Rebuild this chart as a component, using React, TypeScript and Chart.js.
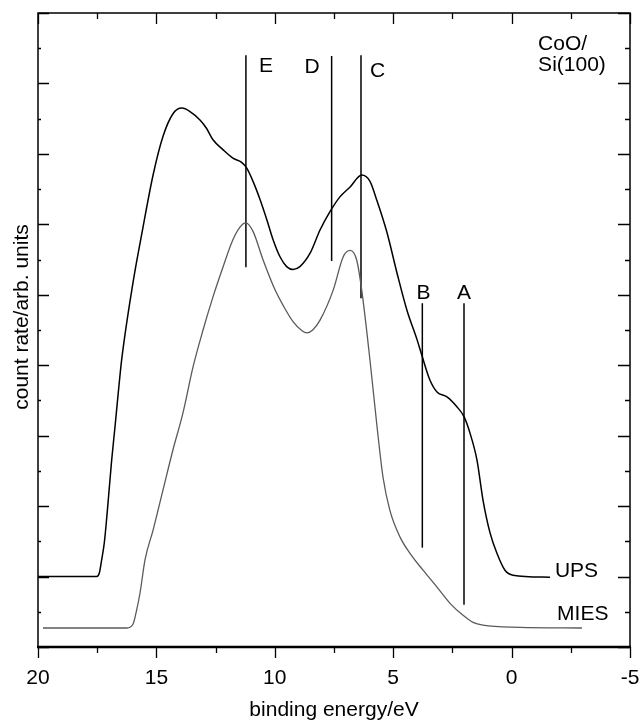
import { useEffect, useRef } from 'react';
import { Chart, registerables } from 'chart.js';

Chart.register(...registerables);

const FONT = '"Liberation Sans", Arial, Helvetica, sans-serif';

// UPS spectrum (binding energy in eV, count rate in arb. units)
const upsEnergy = [20.0, 17.52, 17.41, 17.31, 17.2, 17.07, 16.89, 16.75, 16.61, 16.47, 15.99, 15.57, 15.14, 14.72, 14.3, 13.92, 13.58, 13.16, 12.88, 12.61, 12.19, 11.77, 11.4, 11.19, 10.92, 10.62, 10.34, 10.08, 9.78, 9.5, 9.23, 8.94, 8.51, 8.09, 7.67, 7.25, 6.82, 6.33, 5.98, 5.7, 5.26, 4.84, 4.42, 3.99, 3.78, 3.45, 3.15, 2.73, 2.31, 2.01, 1.76, 1.46, 1.21, 0.91, 0.62, 0.28, -0.06, -1.62];
const upsCounts = [1.0, 1.0, 1.05, 1.24, 1.48, 1.94, 2.65, 3.12, 3.61, 4.07, 5.17, 5.95, 6.7, 7.25, 7.57, 7.65, 7.6, 7.48, 7.36, 7.2, 7.06, 6.94, 6.88, 6.8, 6.61, 6.35, 6.07, 5.79, 5.54, 5.4, 5.36, 5.4, 5.59, 5.92, 6.18, 6.39, 6.53, 6.7, 6.61, 6.35, 5.88, 5.31, 4.78, 4.36, 4.13, 3.79, 3.62, 3.55, 3.41, 3.27, 3.04, 2.65, 2.09, 1.62, 1.33, 1.09, 1.02, 0.99];

// MIES spectrum
const miesEnergy = [19.79, 16.25, 15.98, 15.85, 15.69, 15.48, 15.14, 14.72, 14.3, 13.88, 13.45, 13.03, 12.61, 12.19, 11.77, 11.47, 11.23, 10.92, 10.49, 9.99, 9.65, 9.23, 8.85, 8.64, 8.4, 8.09, 7.53, 7.11, 6.82, 6.54, 6.33, 5.98, 5.68, 5.43, 5.14, 4.71, 4.29, 3.74, 3.15, 2.6, 2.05, 1.63, 1.21, -0.35, -2.97];
const miesCounts = [0.27, 0.27, 0.33, 0.5, 0.77, 1.24, 1.66, 2.23, 2.8, 3.32, 3.98, 4.5, 4.97, 5.39, 5.78, 5.96, 6.02, 5.9, 5.49, 5.07, 4.85, 4.62, 4.49, 4.46, 4.5, 4.64, 5.07, 5.54, 5.63, 5.49, 5.07, 4.07, 3.12, 2.41, 1.94, 1.56, 1.33, 1.09, 0.85, 0.62, 0.45, 0.35, 0.31, 0.28, 0.27];

// Marker lines E..A
const markerNames = ['E', 'D', 'C', 'B', 'A'];
const markerEnergy = [11.22, 7.6, 6.36, 3.77, 2.01];
const markerBottom = [5.39, 5.48, 4.95, 1.41, 0.6];
const markerTop = [8.4, 8.39, 8.4, 4.88, 4.88];
const markerLabelEnergy = [10.37, 8.43, 5.66, 3.72, 2.01];
const markerLabelLevel = [8.27, 8.26, 8.2, 5.05, 5.05];

// Free text labels (left aligned)
const noteTexts = ['CoO/', 'Si(100)', 'UPS', 'MIES'];
const noteEnergy = [-1.12, -1.12, -1.83, -1.92];
const noteLevel = [8.58, 8.28, 1.1, 0.49];

// Axes
const xTickValues = [20, 15, 10, 5, 0, -5];
const xMin = -5;
const xMax = 20;
const xMinorStep = 2.5;
const yMin = 0;
const yMax = 9;
const yMinorStep = 0.5;
const xTitle = 'binding energy/eV';
const yTitle = 'count rate/arb. units';

const decorPlugin = {
  id: 'decor',
  afterDatasetsDraw(chart: any) {
    const { ctx, chartArea } = chart;
    const xs = chart.scales.x;
    const ys = chart.scales.y;
    const { left, right, top, bottom } = chartArea;
    ctx.save();
    ctx.strokeStyle = '#000';
    ctx.fillStyle = '#000';
    // frame
    ctx.lineWidth = 1.5;
    ctx.strokeRect(left, top, right - left, bottom - top);
    ctx.lineWidth = 2.5;
    ctx.beginPath();
    ctx.moveTo(left - 1, bottom);
    ctx.lineTo(right + 1, bottom);
    ctx.stroke();
    // x ticks: bottom outward, top inward
    ctx.lineWidth = 1.3;
    for (let v = xMin; v <= xMax + 1e-9; v += xMinorStep) {
      const px = Math.round(xs.getPixelForValue(v)) + 0.5;
      const major = Math.abs(v % 5) < 1e-9;
      const len = major ? 11 : 6;
      ctx.beginPath();
      ctx.moveTo(px, bottom);
      ctx.lineTo(px, bottom + len);
      ctx.moveTo(px, top);
      ctx.lineTo(px, top + len);
      ctx.stroke();
    }
    // y ticks: both sides inward
    for (let v = yMin; v <= yMax + 1e-9; v += yMinorStep) {
      const py = Math.round(ys.getPixelForValue(v)) + 0.5;
      const major = Math.abs(v % 1) < 1e-9;
      ctx.beginPath();
      ctx.moveTo(left, py);
      ctx.lineTo(left + (major ? 11 : 3), py);
      ctx.moveTo(right, py);
      ctx.lineTo(right - (major ? 12 : 5), py);
      ctx.stroke();
    }
    // marker labels
    const fs = 21;
    ctx.font = `${fs}px ${FONT}`;
    ctx.textBaseline = 'alphabetic';
    ctx.textAlign = 'center';
    markerNames.forEach((n, i) => {
      const px = xs.getPixelForValue(markerLabelEnergy[i]);
      const py = ys.getPixelForValue(markerLabelLevel[i]);
      ctx.fillText(n, px, py + fs * 0.358);
    });
    ctx.textAlign = 'left';
    noteTexts.forEach((t, i) => {
      const px = xs.getPixelForValue(noteEnergy[i]);
      const py = ys.getPixelForValue(noteLevel[i]);
      ctx.fillText(t, px, py + fs * 0.358);
    });
    // axis titles
    ctx.textAlign = 'center';
    ctx.fillText(xTitle, (left + right) / 2, chart.height - 6);
    ctx.translate(28, (top + bottom) / 2 - 13);
    ctx.rotate(-Math.PI / 2);
    ctx.fillText(yTitle, 0, 0);
    ctx.restore();
  },
};

export default function App() {
  const ref = useRef<HTMLCanvasElement | null>(null);
  useEffect(() => {
    if (!ref.current) return;
    const markerSets = markerNames.map((n, i) => ({
      label: n,
      data: [
        { x: markerEnergy[i], y: markerBottom[i] },
        { x: markerEnergy[i], y: markerTop[i] },
      ],
      borderColor: '#000',
      borderWidth: 1.5,
      pointRadius: 0,
      tension: 0,
    }));
    const chart = new Chart(ref.current, {
      type: 'line',
      data: {
        datasets: [
          {
            label: 'UPS',
            data: upsEnergy.map((e, i) => ({ x: e, y: upsCounts[i] })),
            borderColor: '#000',
            borderWidth: 1.5,
            pointRadius: 0,
            cubicInterpolationMode: 'monotone',
          },
          {
            label: 'MIES',
            data: miesEnergy.map((e, i) => ({ x: e, y: miesCounts[i] })),
            borderColor: '#5a5a5a',
            borderWidth: 1.3,
            pointRadius: 0,
            cubicInterpolationMode: 'monotone',
          },
          ...markerSets,
        ] as any,
      },
      options: {
        responsive: false,
        maintainAspectRatio: false,
        animation: false,
        layout: { padding: { top: 13, right: 9, left: 0, bottom: 0 } },
        plugins: { legend: { display: false }, tooltip: { enabled: false } },
        scales: {
          x: {
            type: 'linear',
            min: xMin,
            max: xMax,
            reverse: true,
            position: 'bottom',
            afterBuildTicks: (s: any) => {
              s.ticks = xTickValues.map((v) => ({ value: v }));
            },
            ticks: {
              font: { family: FONT, size: 21 },
              color: '#000',
              padding: 19,
              maxRotation: 0,
              autoSkip: false,
              callback: (v: any) => String(v),
            },
            grid: { display: false, drawTicks: false },
            border: { display: false },
            afterFit: (s: any) => {
              s.height = 75;
              s.paddingLeft = 0;
              s.paddingRight = 0;
            },
          },
          y: {
            type: 'linear',
            min: yMin,
            max: yMax,
            ticks: { display: false },
            grid: { display: false, drawTicks: false },
            border: { display: false },
            afterFit: (s: any) => {
              s.width = 38;
            },
          },
        },
      } as any,
      plugins: [decorPlugin],
    });
    return () => chart.destroy();
  }, []);
  return (
    <div style={{ position: 'absolute', left: 0, top: 0, width: 639, height: 722, background: '#fff' }}>
      <canvas ref={ref} width={639} height={722} style={{ display: 'block' }} />
    </div>
  );
}
